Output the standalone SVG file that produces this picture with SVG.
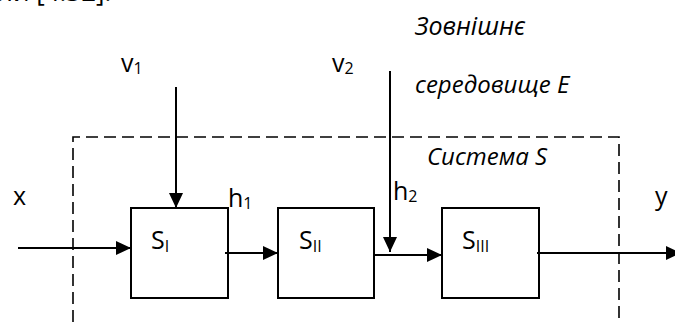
<svg xmlns="http://www.w3.org/2000/svg" width="675" height="322" viewBox="0 0 675 322">
  <style>
    .t { font-family: "Open Sans", "Liberation Sans", sans-serif; font-size: 25px; fill: #000; }
    .it { font-family: "Open Sans", "Liberation Sans", sans-serif; font-size: 24px; font-style: italic; fill: #000; }
    .sub { font-size: 16px; }
    .box { fill: #fff; stroke: #000; stroke-width: 2; }
    .ln { fill: none; stroke: #000; stroke-width: 2; }
    .dash { fill: none; stroke: #000; stroke-width: 1.6; stroke-dasharray: 12 6; }
  </style>
  <defs>
    <marker id="ah" viewBox="0 0 15 14" refX="15" refY="7" markerWidth="15" markerHeight="14" markerUnits="userSpaceOnUse" orient="auto">
      <path d="M0,0 L15,7 L0,14 Z" fill="#000"/>
    </marker>
  </defs>
  <rect width="675" height="322" fill="#fff"/>

  <text class="t" x="-2" y="1" style="font-size:26px">ли [4.32].</text>

  <path class="dash" d="M73,322 V137 H619 V322"/>

  <g id="node-S1">
    <rect class="box" x="131" y="208" width="97" height="90"/>
    <text class="t" x="151" y="249">S<tspan class="sub" dy="3">I</tspan></text>
  </g>
  <g id="node-S2">
    <rect class="box" x="278" y="208" width="96" height="90"/>
    <text class="t" x="299" y="249">S<tspan class="sub" dy="3">II</tspan></text>
  </g>
  <g id="node-S3">
    <rect class="box" x="442" y="208" width="97" height="90"/>
    <text class="t" x="462" y="249">S<tspan class="sub" dy="3">III</tspan></text>
  </g>

  <g id="connectors">
    <line class="ln" x1="18" y1="248" x2="131" y2="248" marker-end="url(#ah)"/>
    <line class="ln" x1="225" y1="253" x2="278" y2="253" marker-end="url(#ah)"/>
    <line class="ln" x1="374" y1="255" x2="442" y2="255" marker-end="url(#ah)"/>
    <line class="ln" x1="537" y1="253" x2="681" y2="253" marker-end="url(#ah)"/>
    <line class="ln" x1="176" y1="87" x2="176" y2="208" marker-end="url(#ah)"/>
    <line class="ln" x1="390" y1="71" x2="390" y2="252" marker-end="url(#ah)"/>
  </g>

  <g id="labels">
    <text class="t" x="13" y="205">x</text>
    <text class="t" x="655" y="205">y</text>
    <text class="t" x="121" y="72">v<tspan class="sub" dy="2">1</tspan></text>
    <text class="t" x="332" y="72">v<tspan class="sub" dy="2">2</tspan></text>
    <text class="t" x="228" y="207">h<tspan class="sub" dy="2">1</tspan></text>
    <text class="t" x="393" y="200">h<tspan class="sub" dy="2">2</tspan></text>
    <text class="it" x="415" y="35" style="font-size:25px">Зовнішнє</text>
    <text class="it" x="415" y="93">середовище E</text>
    <text class="it" x="427" y="165">Система S</text>
  </g>
</svg>
